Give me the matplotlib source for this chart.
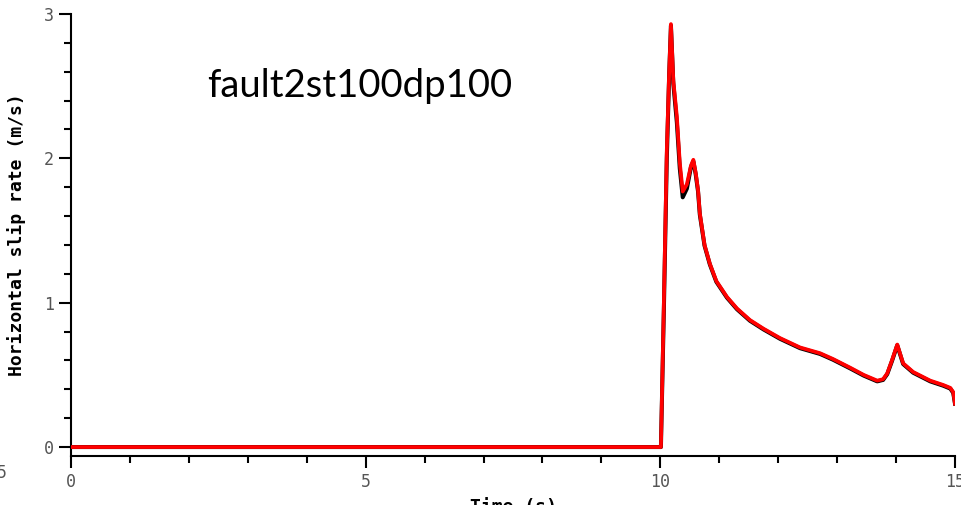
import matplotlib
matplotlib.use('Agg')

from matplotlib import pyplot as plt
from matplotlib.ticker import MultipleLocator

# Dados
tempo = [0, 9.98, 10.01, 10.06, 10.11, 10.15, 10.18, 10.22, 10.28, 10.33, 10.38,
         10.45, 10.52, 10.56, 10.60, 10.64, 10.67, 10.75, 10.84, 10.95, 11.13,
         11.30, 11.52, 11.75, 12.03, 12.37, 12.71, 12.93, 13.22, 13.45, 13.68,
         13.78, 13.85, 13.93, 14.02, 14.12, 14.29, 14.58, 14.80, 14.92, 14.97, 15.0]
slip_vermelho = [0, 0, 0, 1.0, 2.06, 2.6, 2.93, 2.54, 2.29, 1.97, 1.77,
                 1.82, 1.95, 1.99, 1.90, 1.78, 1.62, 1.40, 1.27, 1.15, 1.04,
                 0.96, 0.88, 0.82, 0.755, 0.69, 0.65, 0.61, 0.55, 0.50, 0.46,
                 0.47, 0.51, 0.60, 0.71, 0.58, 0.52, 0.46, 0.43, 0.41, 0.38, 0.30]
slip_preto = [0, 0, 0, 0.95, 2.0, 2.58, 2.92, 2.52, 2.25, 1.93, 1.73,
              1.79, 1.94, 1.98, 1.89, 1.77, 1.61, 1.395, 1.265, 1.145, 1.035,
              0.955, 0.875, 0.815, 0.75, 0.685, 0.645, 0.605, 0.545, 0.495, 0.455,
              0.465, 0.505, 0.595, 0.705, 0.575, 0.515, 0.455, 0.425, 0.405, 0.375, 0.30]

titulo = 'fault2st100dp100'
mono = 'DejaVu Sans Mono'

fig = plt.figure(figsize=(9.61, 5.05), dpi=100)
ax = fig.add_axes([71 / 961, 1 - 456 / 505, 884 / 961, 442 / 505])

ax.plot(tempo, slip_preto, color='black', lw=2.9, zorder=2)
ax.plot(tempo, slip_vermelho, color='red', lw=2.7, zorder=3)

ax.set_xlim(0, 15)
ax.set_ylim(-0.062, 3.0)
ax.xaxis.set_major_locator(MultipleLocator(5))
ax.xaxis.set_minor_locator(MultipleLocator(1))
ax.yaxis.set_major_locator(MultipleLocator(1))
ax.yaxis.set_minor_locator(MultipleLocator(0.2))

for lado in ['top', 'right']:
    ax.spines[lado].set_visible(False)
for lado in ['left', 'bottom']:
    ax.spines[lado].set_linewidth(1.5)

ax.tick_params(which='major', length=8.5, width=1.5, pad=4, labelsize=12,
               labelcolor='#555555')
ax.tick_params(which='minor', length=5, width=1.5)
for lbl in ax.get_xticklabels() + ax.get_yticklabels():
    lbl.set_family(mono)

ax.set_ylabel('Horizontal slip rate (m/s)', family=mono, fontsize=13,
              fontweight='bold', labelpad=13)
ax.set_xlabel('Time (s)', family=mono, fontsize=13, fontweight='bold',
              labelpad=5)

fig.text(207 / 961, 1 - 97 / 505, titulo, family='Lato', fontsize=27.5,
         va='baseline', ha='left')
fig.text(7 / 961, 1 - 478 / 505, '5', family=mono, fontsize=12,
         color='#555555', ha='right')

fig.savefig('out.png', dpi=100)
